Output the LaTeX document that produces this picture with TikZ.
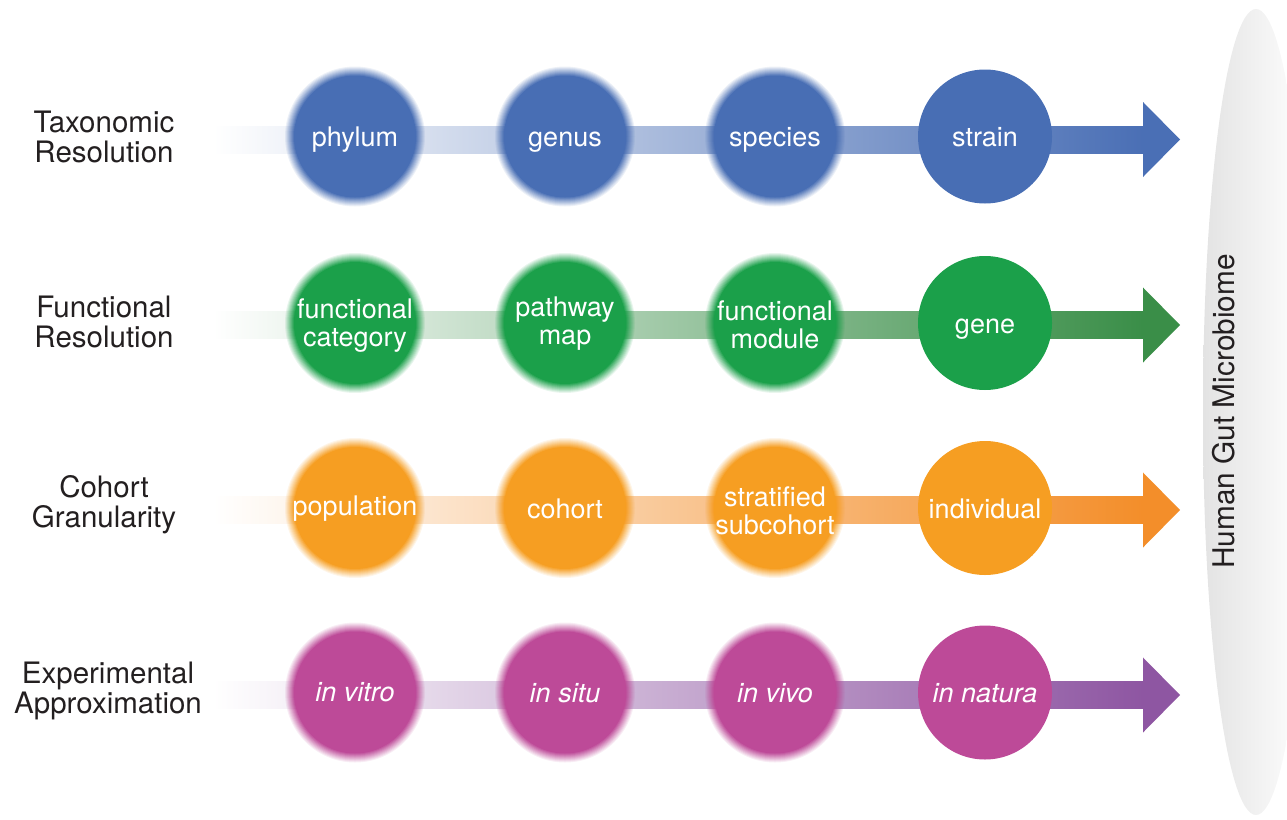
\documentclass[tikz,border=0pt]{standalone}
\usepackage{fontspec}
\setmainfont{TeX Gyre Heros}
\usetikzlibrary{calc}
\definecolor{bC}{RGB}{72,110,180}
\definecolor{bE}{RGB}{74,111,181}
\definecolor{gC}{RGB}{27,160,74}
\definecolor{gE}{RGB}{58,142,72}
\definecolor{oC}{RGB}{246,158,34}
\definecolor{oE}{RGB}{243,142,42}
\definecolor{mC}{RGB}{189,74,152}
\definecolor{mE}{RGB}{142,86,162}
\definecolor{lbl}{RGB}{35,31,32}
\newcommand\fzdisc[3]{\foreach \j in {1,...,10}{\pgfmathsetmacro\fzop{1/\j}\pgfmathsetmacro\fzr{60+\j}\fill[#1, opacity=\fzop] (#2,#3) circle (\fzr pt);}}
\newcommand\rowarrow[3]{% color, y, name suffix
  \coordinate (s#3) at (213,#2);
  \coordinate (h#3) at (1143,#2);
  \coordinate (t#3) at (1180,#2);
  \shade[left color=white, right color=#1] ([yshift=13.5pt]s#3) rectangle ([yshift=-13.5pt]h#3);
  \fill[#1] ([yshift=37.5pt]h#3) -- (t#3) -- ([yshift=-37.5pt]h#3) -- cycle;
}
\begin{document}
\begin{tikzpicture}[x=1pt,y=-1pt,
  fuzzynode/.style={circle, minimum size=130pt, inner sep=0pt, text=white,
    font=\fontsize{27}{28}\selectfont, align=center},
  sharpnode/.style={circle, fill=#1, minimum size=134pt, inner sep=0pt, text=white,
    font=\fontsize{27}{28}\selectfont, align=center},
  oneline/.style={text height=20pt, text depth=0pt},
  rowlabel/.style={text=lbl, font=\fontsize{29.5}{30}\selectfont, align=center},
]
\useasboundingbox (0,0) rectangle (1287,819);

% side ellipse
\shade[left color=black!11, middle color=black!2, right color=white] (1256,412) ellipse (53pt and 403pt);
\node[rotate=90, text=lbl, font=\fontsize{29.8}{30}\selectfont] (hgm) at (1224,411.5) {Human Gut Microbiome};

% row labels
\node[rowlabel] (L1) at (104,137) {Taxonomic\\Resolution};
\node[rowlabel] (L2) at (104,322) {Functional\\Resolution};
\node[rowlabel] (L3) at (104,505) {Cohort\\Granularity};
\node[rowlabel] (L4) at (108,691) {Experimental\\Approximation};

% arrows
\rowarrow{bE}{139.5}{1}
\rowarrow{gE}{325}{2}
\rowarrow{oE}{510}{3}
\rowarrow{mE}{695}{4}

% row 1
\fzdisc{bC}{355}{136.5}\fzdisc{bC}{565}{136.5}\fzdisc{bC}{775}{136.5}
\node[fuzzynode=bC, oneline] (a1) at (355,136.5) {phylum};
\node[fuzzynode=bC, oneline] (a2) at (565,136.5) {genus};
\node[fuzzynode=bC, oneline] (a3) at (775,136.5) {species};
\node[sharpnode=bC, oneline] (a4) at (985,136.5) {strain};

% row 2
\fzdisc{gC}{355}{323}\fzdisc{gC}{565}{323}\fzdisc{gC}{775}{323}
\node[fuzzynode=gC] (b1) at (355,326) {functional\\category};
\node[fuzzynode=gC] (b2) at (565,324) {pathway\\map};
\node[fuzzynode=gC] (b3) at (775,325) {functional\\module};
\node[sharpnode=gC, oneline] (b4) at (985,323) {gene};

% row 3
\fzdisc{oC}{355}{508}\fzdisc{oC}{565}{508}\fzdisc{oC}{775}{508}
\node[fuzzynode=oC, oneline] (c1) at (355,505) {population};
\node[fuzzynode=oC, oneline] (c2) at (565,508) {cohort};
\node[fuzzynode=oC] (c3) at (775,511) {stratified\\subcohort};
\node[sharpnode=oC, oneline] (c4) at (985,508) {individual};

% row 4
\fzdisc{mC}{355}{692.5}\fzdisc{mC}{565}{692.5}\fzdisc{mC}{775}{692.5}
\node[fuzzynode=mC, oneline, font=\fontsize{27}{28}\selectfont\itshape] (d1) at (355,691) {in vitro};
\node[fuzzynode=mC, oneline, font=\fontsize{27}{28}\selectfont\itshape] (d2) at (565,692.5) {in situ};
\node[fuzzynode=mC, oneline, font=\fontsize{27}{28}\selectfont\itshape] (d3) at (775,692.5) {in vivo};
\node[sharpnode=mC, oneline, font=\fontsize{27}{28}\selectfont\itshape] (d4) at (985,692.5) {in natura};
\end{tikzpicture}
\end{document}
